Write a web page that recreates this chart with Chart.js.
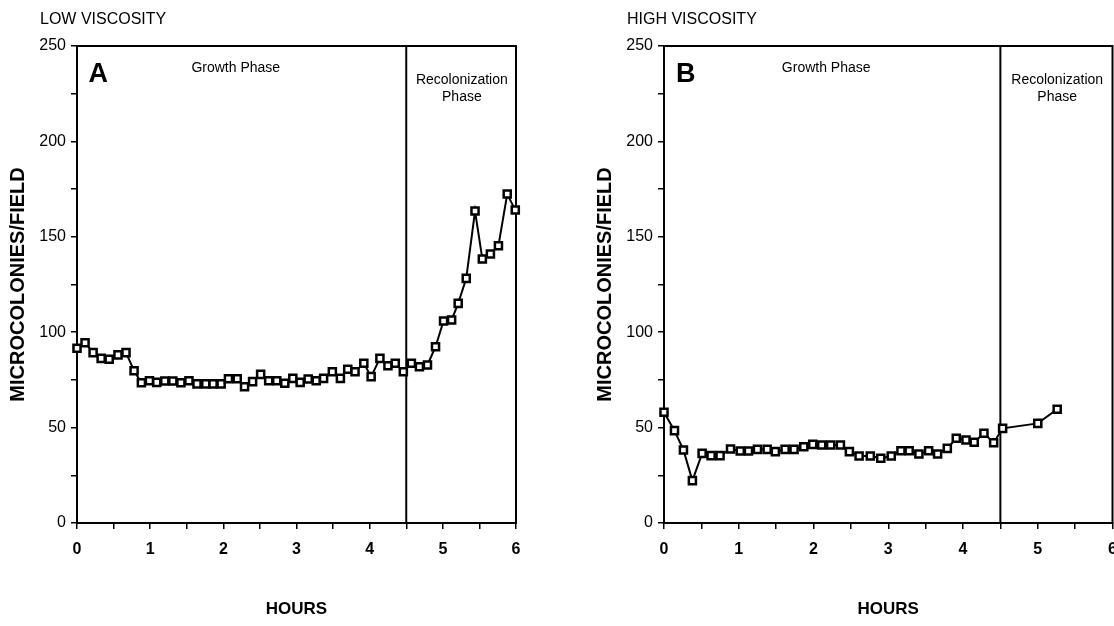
<!DOCTYPE html>
<html>
<head>
<meta charset="utf-8">
<script src="https://cdn.jsdelivr.net/npm/chart.js@4.4.1/dist/chart.umd.min.js"></script>
<style>
  html, body { margin: 0; padding: 0; background: #fff; }
  body { width: 1114px; height: 626px; position: relative; overflow: hidden; }
  .panel { position: absolute; top: 0; }
  #panel-a { left: 0; }
  #panel-b { left: 587px; }
</style>
</head>
<body>
<div class="panel" id="panel-a"><canvas id="chart-a" width="560" height="626"></canvas></div>
<div class="panel" id="panel-b"><canvas id="chart-b" width="533" height="626"></canvas></div>
<script>
// panel A - low viscosity
const hoursA = [0.00, 0.11, 0.22, 0.33, 0.44, 0.56, 0.67, 0.78, 0.88, 0.99,
    1.09, 1.20, 1.31, 1.42, 1.53, 1.64, 1.76, 1.86, 1.97,
    2.07, 2.19, 2.29, 2.40, 2.51, 2.62, 2.73, 2.84, 2.95,
    3.05, 3.16, 3.27, 3.37, 3.49, 3.60, 3.70, 3.80, 3.92,
    4.02, 4.14, 4.25, 4.35, 4.46, 4.57, 4.68, 4.79, 4.90,
    5.01, 5.12, 5.21, 5.32, 5.44, 5.54, 5.65, 5.76, 5.88, 5.99];
const countsA = [91.6, 94.5, 89.3, 86.3, 85.8, 88.1, 89.3, 79.8, 73.5, 74.6,
    73.7, 74.4, 74.4, 73.5, 74.6, 72.9, 72.9, 72.9, 72.9, 75.6,
    75.6, 71.4, 74.1, 77.9, 74.6, 74.6, 73.2, 75.8, 73.7, 75.5,
    74.6, 75.8, 79.3, 75.8, 80.6, 79.3, 83.7, 76.7, 86.3, 82.4,
    83.7, 79.3, 83.7, 81.9, 82.8, 92.4, 105.9, 106.4, 115.1, 128.2,
    163.5, 138.4, 141.0, 145.3, 172.4, 164.0];

// panel B - high viscosity
const hoursB = [0.00, 0.14, 0.26, 0.38, 0.51, 0.63, 0.75, 0.89, 1.02, 1.13,
    1.25, 1.38, 1.49, 1.62, 1.74, 1.87, 1.99, 2.11, 2.23, 2.36,
    2.48, 2.61, 2.76, 2.90, 3.04, 3.17, 3.28, 3.41, 3.54, 3.66,
    3.79, 3.91, 4.04, 4.15, 4.28, 4.41, 4.53, 5.00, 5.26];
const countsB = [58, 48.4, 38.3, 22.2, 36.5, 35.3, 35.3, 38.8, 37.7, 37.7,
    38.6, 38.6, 37.4, 38.6, 38.6, 40.0, 41.2, 40.9, 40.9, 40.9,
    37.4, 35.1, 35.1, 33.9, 35.1, 37.9, 37.9, 36.2, 37.9, 36.2,
    39.1, 44.4, 43.5, 42.3, 47.0, 42.1, 49.6, 52.2, 59.6];

const hourTicks = [0, 1, 2, 3, 4, 5, 6];
const countTicks = [0, 50, 100, 150, 200, 250];
const phaseBoundary = 4.5;
const phaseNotes = [
    { text: 'Growth Phase', hour: 2.17, count: 238.5 },
    { text: 'Recolonization', hour: 5.26, count: 232 },
    { text: 'Phase', hour: 5.26, count: 223 }
];

const FONT = '"Liberation Sans", Arial, Helvetica, sans-serif';

const phaseFrame = {
    id: 'phaseFrame',
    beforeDatasetsDraw(chart, args, opts) {
        const { ctx, chartArea: a, scales: { x, y } } = chart;
        ctx.save();
        ctx.strokeStyle = '#000';
        ctx.lineWidth = 2;
        ctx.strokeRect(a.left, a.top, a.right - a.left, a.bottom - a.top);
        const bx = x.getPixelForValue(phaseBoundary);
        ctx.beginPath();
        ctx.moveTo(bx, a.top);
        ctx.lineTo(bx, a.bottom);
        ctx.stroke();

        ctx.fillStyle = '#000';
        ctx.textAlign = 'center';
        ctx.textBaseline = 'middle';
        ctx.font = `bold 27px ${FONT}`;
        ctx.fillText(opts.letter, x.getPixelForValue(0.29), y.getPixelForValue(235));
        ctx.font = `14px ${FONT}`;
        phaseNotes.forEach(n => ctx.fillText(n.text, x.getPixelForValue(n.hour), y.getPixelForValue(n.count)));

        ctx.textAlign = 'left';
        ctx.font = `16px ${FONT}`;
        ctx.fillText(opts.heading, a.left - 37, 20);
        ctx.restore();
    }
};

function makeChart(id, hours, counts, letter, heading, padRight) {
    const points = hours.map((h, i) => ({ x: h, y: counts[i] }));
    return new Chart(document.getElementById(id), {
        type: 'line',
        data: {
            datasets: [{
                data: points,
                borderColor: '#000',
                borderWidth: 2,
                tension: 0,
                pointStyle: 'rect',
                pointRadius: 5,
                pointBorderWidth: 2.5,
                pointBorderColor: '#000',
                pointBackgroundColor: '#fff',
                clip: false
            }, {
                data: points,
                showLine: false,
                pointStyle: 'rect',
                pointRadius: 1,
                pointBorderWidth: 0,
                pointBackgroundColor: '#000',
                clip: false
            }]
        },
        options: {
            responsive: false,
            animation: false,
            layout: { padding: { top: 46, right: padRight, left: 0, bottom: 0 } },
            plugins: {
                legend: { display: false },
                tooltip: { enabled: false },
                phaseFrame: { letter, heading }
            },
            scales: {
                x: {
                    type: 'linear', min: 0, max: 6,
                    afterFit: s => { s.height = 103; s.paddingLeft = 0; s.paddingRight = 0; },
                    ticks: {
                        stepSize: 0.5, autoSkip: false, padding: 11, color: '#000',
                        font: { family: FONT, size: 16, weight: 'bold' },
                        callback: v => hourTicks.includes(v) ? String(v) : ''
                    },
                    grid: { drawOnChartArea: false, tickLength: 6, color: '#000', lineWidth: 1.5 },
                    border: { color: '#000', width: 2 },
                    title: {
                        display: true, text: 'HOURS', color: '#000',
                        font: { family: FONT, size: 17, weight: 'bold' },
                        padding: { bottom: 6 }
                    }
                },
                y: {
                    min: 0, max: 250,
                    afterFit: s => { s.width = 77; },
                    ticks: {
                        stepSize: 25, autoSkip: false, padding: 5, color: '#000',
                        font: { family: FONT, size: 16 },
                        callback: v => countTicks.includes(v) ? String(v) : ''
                    },
                    grid: { drawOnChartArea: false, tickLength: 6, color: '#000', lineWidth: 1.5 },
                    border: { color: '#000', width: 2 },
                    title: {
                        display: true, text: 'MICROCOLONIES/FIELD', color: '#000',
                        font: { family: FONT, size: 20, weight: 'bold' },
                        padding: { top: 6 }
                    }
                }
            }
        },
        plugins: [phaseFrame]
    });
}

makeChart('chart-a', hoursA, countsA, 'A', 'LOW VISCOSITY', 44);
makeChart('chart-b', hoursB, countsB, 'B', 'HIGH VISCOSITY', 2);
</script>
</body>
</html>
